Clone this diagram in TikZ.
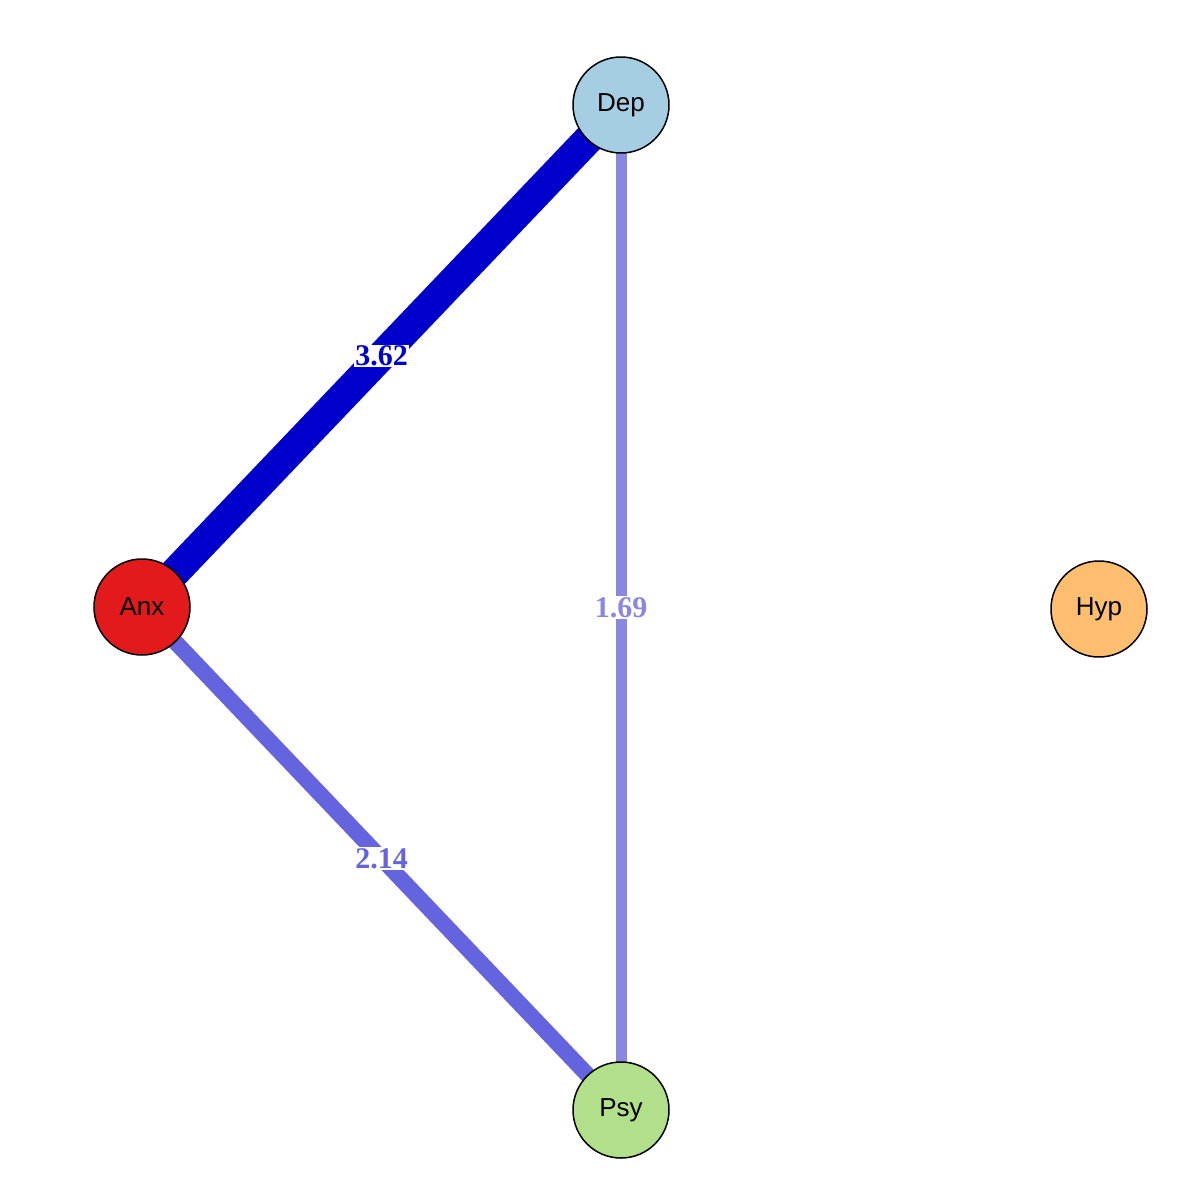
\documentclass[tikz,border=0pt]{standalone}
\usepackage{fontspec}
\setmainfont{Liberation Serif}
\newfontfamily\nodefont{Liberation Sans}
\begin{document}
\begin{tikzpicture}[x=1pt,y=-1pt,
 vert/.style={circle,draw=black,line width=1.5pt,minimum size=96pt,inner sep=0pt,font=\nodefont\fontsize{26}{26}\selectfont},
 elab/.style={fill=white,inner sep=1pt,font=\bfseries\fontsize{30}{30}\selectfont}]
\useasboundingbox (0,0) rectangle (1194,1200);
\definecolor{eA}{HTML}{0000CC}
\definecolor{eB}{HTML}{6464DE}
\definecolor{eC}{HTML}{8888E2}
\coordinate (cDep) at (621,105);
\coordinate (cAnx) at (142,607);
\coordinate (cHyp) at (1099,609);
\coordinate (cPsy) at (621,1110);
\draw[eA,line width=30pt] (cAnx) -- (cDep) node[pos=0.5,elab,text=eA]{3.62};
\draw[eC,line width=11pt] (cDep) -- (cPsy) node[pos=0.5,elab,text=eC]{1.69};
\draw[eB,line width=16pt] (cAnx) -- (cPsy) node[pos=0.5,elab,text=eB]{2.14};
\node[vert,fill={rgb,255:red,166;green,206;blue,227}] (Dep) at (cDep) {Dep};
\node[vert,fill={rgb,255:red,227;green,26;blue,28}] (Anx) at (cAnx) {Anx};
\node[vert,fill={rgb,255:red,253;green,191;blue,111}] (Hyp) at (cHyp) {Hyp};
\node[vert,fill={rgb,255:red,178;green,223;blue,138}] (Psy) at (cPsy) {Psy};
\end{tikzpicture}
\end{document}
